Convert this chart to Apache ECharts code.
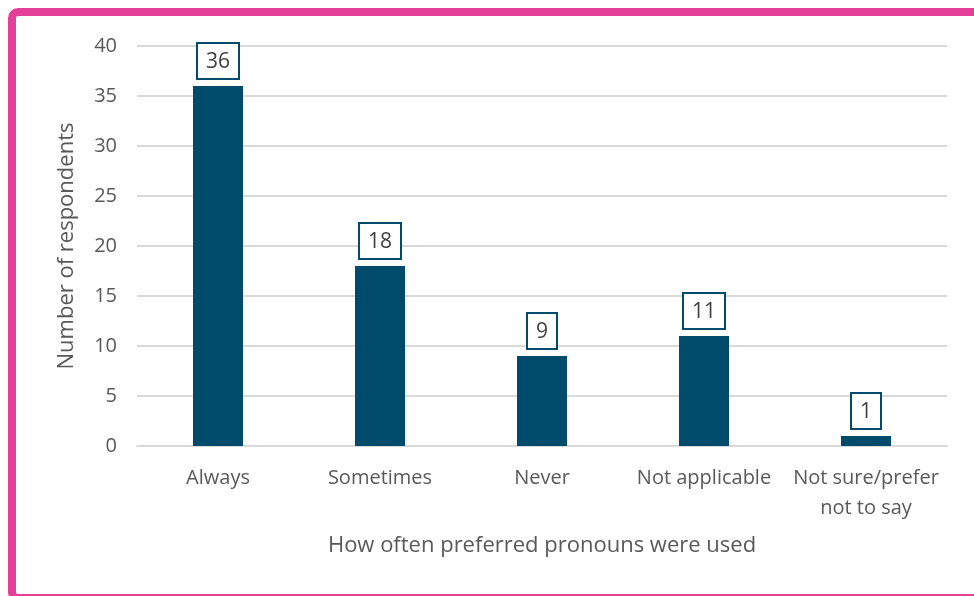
<!DOCTYPE html>
<html>
<head>
<meta charset="utf-8">
<script src="https://cdn.jsdelivr.net/npm/echarts@6/dist/echarts.min.js"></script>
<style>
  html, body { margin: 0; padding: 0; background: #fff; }
  #main { width: 974px; height: 596px; }
</style>
</head>
<body>
<div id="main"></div>
<script>
const categories = ['Always', 'Sometimes', 'Never', 'Not applicable', 'Not sure/prefer\nnot to say'];
const respondents = [36, 18, 9, 11, 1];
const yTicks = { min: 0, max: 40, interval: 5 };

const fontFamily = '"Open Sans", "Noto Sans", sans-serif';
const barColor = '#004B6B';
const textColor = '#595959';

const myChart = echarts.init(document.getElementById('main'));

const option = {
  animation: false,
  backgroundColor: '#fff',
  textStyle: { fontFamily: fontFamily },
  graphic: [
    {
      type: 'rect',
      shape: { x: 12, y: 12, width: 1000, height: 586, r: 6 },
      style: { fill: 'none', stroke: '#E4409A', lineWidth: 8 },
      silent: true,
    },
  ],
  grid: {
    left: 137,
    right: 27,
    top: 46,
    bottom: 150,
  },
  xAxis: {
    type: 'category',
    data: categories,
    name: 'How often preferred pronouns were used',
    nameLocation: 'middle',
    nameGap: 89,
    nameTextStyle: { fontSize: 22, color: textColor, fontFamily: fontFamily },
    axisLine: { lineStyle: { color: '#D9D9D9', width: 2 } },
    axisTick: { show: false },
    axisLabel: {
      color: textColor,
      fontSize: 20,
      margin: 17,
      lineHeight: 30,
      interval: 0,
      fontFamily: fontFamily,
    },
  },
  yAxis: {
    type: 'value',
    min: yTicks.min,
    max: yTicks.max,
    interval: yTicks.interval,
    name: 'Number of respondents',
    nameLocation: 'middle',
    nameGap: 59,
    nameTextStyle: { fontSize: 22, color: textColor, fontFamily: fontFamily },
    axisLine: { show: false },
    axisTick: { show: false },
    axisLabel: { color: textColor, fontSize: 20, margin: 20, fontFamily: fontFamily },
    splitLine: { lineStyle: { color: '#D9D9D9', width: 2 } },
  },
  series: [
    {
      type: 'bar',
      data: respondents,
      barWidth: 50,
      itemStyle: { color: barColor },
      label: {
        show: true,
        position: 'top',
        distance: 8,
        color: '#404040',
        fontSize: 21,
        fontFamily: fontFamily,
        backgroundColor: '#fff',
        borderColor: barColor,
        borderWidth: 2,
        padding: [8, 8, 5, 8],
      },
    },
  ],
};

myChart.setOption(option);
</script>
</body>
</html>
